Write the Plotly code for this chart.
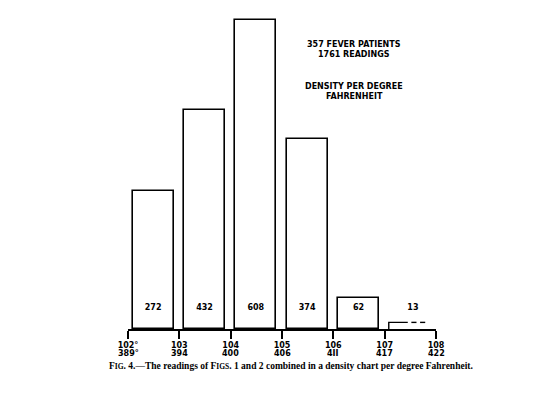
import plotly.graph_objects as go

bin_starts = [102, 103, 104, 105, 106]
counts = [272, 432, 608, 374, 62]
last_bin_start = 107
last_count = 13
fahrenheit_ticks = [102, 103, 104, 105, 106, 107, 108]
fahrenheit_labels = ["102°", "103", "104", "105", "106", "107", "108"]
celsius_labels = ["389°", "394", "400", "406", "4II", "417", "422"]
notes = ["357 FEVER PATIENTS", "1761 READINGS", "", "DENSITY PER DEGREE", "FAHRENHEIT"]
caption = ("F<span style='font-size:7.5px'>IG</span>. 4.—The readings of "
           "F<span style='font-size:7.5px'>IGS</span>. 1 and 2 combined in a density chart per degree Fahrenheit.")

BAR_W = 0.8
centers = [b + 0.49 for b in bin_starts]
label_y = 41

L, R, T, B = 128, 108, 15, 66
W, H = 544, 395


def px_to_paper(px, py):
    return (px - L) / (W - L - R), 1 - (py - T) / (H - T - B)


fig = go.Figure()
fig.add_trace(go.Bar(
    x=centers, y=counts, width=BAR_W,
    marker=dict(color="white", line=dict(color="black", width=1.6)),
    hoverinfo="skip", showlegend=False,
))
x0 = last_bin_start + 0.08
fig.add_trace(go.Scatter(
    x=[x0, x0, last_bin_start + 0.45], y=[0, last_count, last_count],
    mode="lines", line=dict(color="black", width=1.4), showlegend=False, hoverinfo="skip",
))
fig.add_trace(go.Scatter(
    x=[last_bin_start + 0.52, last_bin_start + 0.62, None, last_bin_start + 0.69, last_bin_start + 0.79],
    y=[last_count, last_count, None, last_count, last_count],
    mode="lines", line=dict(color="black", width=1.4), showlegend=False, hoverinfo="skip",
))
fig.add_trace(go.Scatter(
    x=centers + [last_bin_start + 0.55], y=[label_y] * (len(counts) + 1),
    text=[str(c) for c in counts] + [str(last_count)],
    mode="text", textfont=dict(family="DejaVu Sans", size=8, color="black", weight="bold"),
    showlegend=False, hoverinfo="skip",
))

fig.update_xaxes(
    range=[102, 108], showgrid=False, zeroline=False,
    showline=True, linecolor="black", linewidth=1.5,
    ticks="outside", ticklen=8, tickwidth=1.5, tickcolor="black",
    tickvals=fahrenheit_ticks, ticktext=fahrenheit_labels,
    tickfont=dict(family="DejaVu Sans", size=8, color="black", weight="bold"),
)
fig.update_yaxes(range=[0, 618], visible=False, showgrid=False, zeroline=False)

_, cy = px_to_paper(0, 353.5)
for xv, t in zip(fahrenheit_ticks, celsius_labels):
    fig.add_annotation(
        text=t, x=xv, y=cy, xref="x", yref="paper",
        showarrow=False, xanchor="center", yanchor="middle",
        font=dict(family="DejaVu Sans", size=8, color="black", weight="bold"),
    )

note_y = [45, 55, 0, 86, 97]
for t, yy in zip(notes, note_y):
    if not t:
        continue
    ax, ay = px_to_paper(354, yy)
    fig.add_annotation(
        text=t, x=ax, y=ay, xref="paper", yref="paper",
        showarrow=False, xanchor="center", yanchor="middle",
        font=dict(family="DejaVu Sans", size=8, color="black", weight="bold"),
    )

ax, ay = px_to_paper(291, 366)
fig.add_annotation(
    text=caption, x=ax, y=ay, xref="paper", yref="paper",
    showarrow=False, xanchor="center", yanchor="middle",
    font=dict(family="Liberation Serif", size=9.5, color="black", weight="bold"),
)

fig.update_layout(
    width=W, height=H,
    margin=dict(l=L, r=R, t=T, b=B),
    paper_bgcolor="white", plot_bgcolor="white",
    bargap=0, showlegend=False,
)

fig.write_html("out.html")
